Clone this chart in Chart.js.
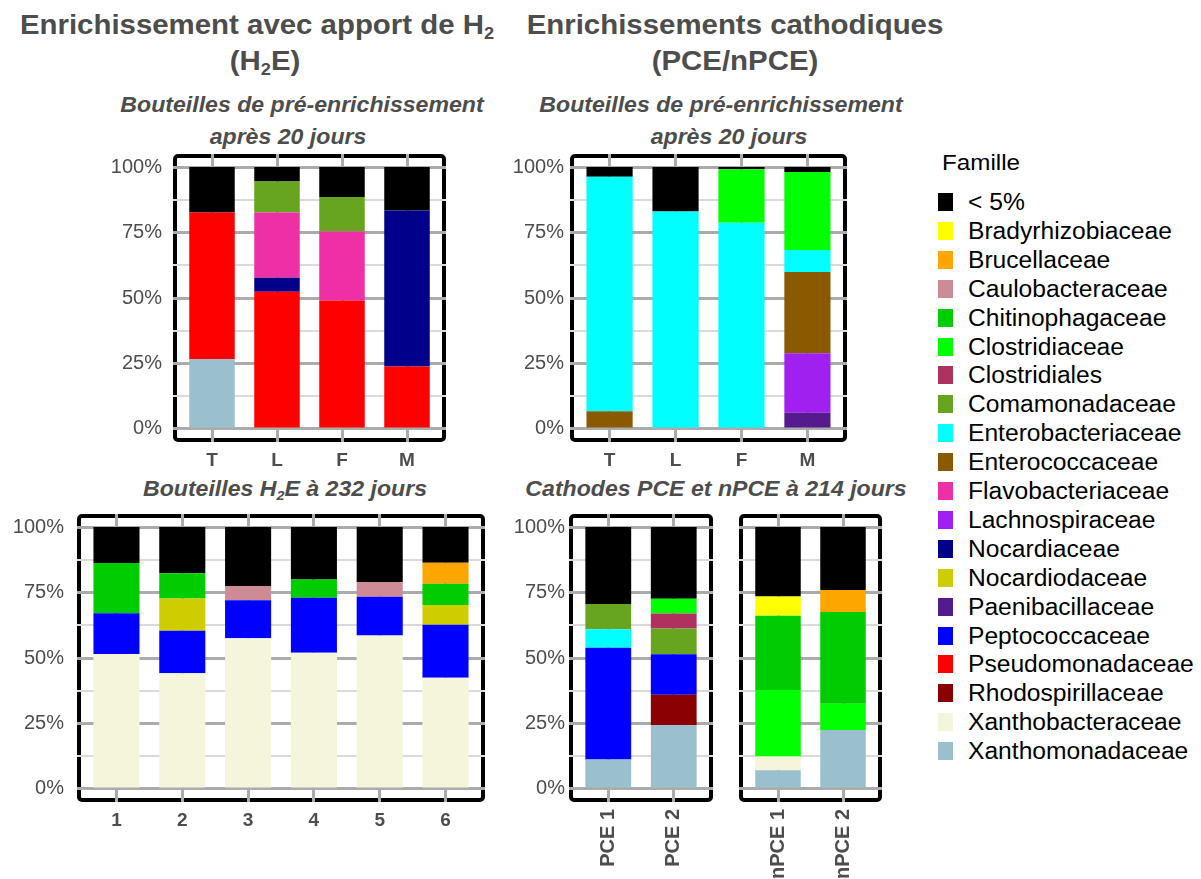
<!DOCTYPE html>
<html>
<head>
<meta charset="utf-8">
<script src="https://cdn.jsdelivr.net/npm/chart.js@4.4.1/dist/chart.umd.min.js"></script>
<style>
  body { margin: 0; background: #fff; }
  #page { position: relative; width: 1201px; height: 879px; overflow: hidden; font-family: "Liberation Sans", Arial, sans-serif; }
  .t { position: absolute; white-space: nowrap; transform: translateX(-50%) scaleX(1.05); color: #4d4d4d; font-weight: bold; line-height: 1; }
  .title { font-size: 28px; }
  .sub { font-size: 22px; font-style: italic; }
  .t sub { font-size: 0.62em; vertical-align: -0.3em; line-height: 0; }
  .pane { position: absolute; }
  #legend { position: absolute; left: 938px; top: 0; color: #000; }
  #legend .head { position: absolute; left: 4px; top: 150px; font-size: 22px; white-space: nowrap; transform: scaleX(1.1); transform-origin: left center; }
  #legend .item { position: absolute; left: 0; height: 18px; white-space: nowrap; }
  #legend .key { position: absolute; left: 0; top: 0; width: 15px; height: 18px; }
  #legend .name { position: absolute; left: 30px; top: -3px; font-size: 23px; line-height: 24px; transform: scaleX(1.07); transform-origin: left center; }
</style>
</head>
<body>
<div id="page">
  <div class="t title" style="left:257px; top:11px;">Enrichissement avec apport de H<sub>2</sub></div>
  <div class="t title" style="left:265px; top:47px;">(H<sub>2</sub>E)</div>
  <div class="t title" style="left:735px; top:11px;">Enrichissements cathodiques</div>
  <div class="t title" style="left:735px; top:47px;">(PCE/nPCE)</div>

  <div class="t sub" style="left:302px; top:94px;">Bouteilles de pré-enrichissement</div>
  <div class="t sub" style="left:288px; top:126px;">après 20 jours</div>
  <div class="t sub" style="left:721px; top:94px;">Bouteilles de pré-enrichissement</div>
  <div class="t sub" style="left:729px; top:126px;">après 20 jours</div>

  <div class="t sub" style="left:285px; top:478px;">Bouteilles H<sub>2</sub>E à 232 jours</div>
  <div class="t sub" style="left:716px; top:478px;">Cathodes PCE et nPCE à 214 jours</div>

  <div id="legend"><div class="head">Famille</div></div>
</div>

<script>
// familles, dans l'ordre de la légende
const families = [
  "< 5%", "Bradyrhizobiaceae", "Brucellaceae", "Caulobacteraceae", "Chitinophagaceae",
  "Clostridiaceae", "Clostridiales", "Comamonadaceae", "Enterobacteriaceae", "Enterococcaceae",
  "Flavobacteriaceae", "Lachnospiraceae", "Nocardiaceae", "Nocardiodaceae", "Paenibacillaceae",
  "Peptococcaceae", "Pseudomonadaceae", "Rhodospirillaceae", "Xanthobacteraceae", "Xanthomonadaceae"
];
const familyColours = [
  "#000000", "#ffff00", "#ffa500", "#cd8c95", "#00cd00",
  "#00ff00", "#b03060", "#67a521", "#00ffff", "#8b5a00",
  "#ee30a7", "#a020f0", "#00008b", "#cdcd00", "#551a8b",
  "#0000ff", "#ff0000", "#8b0000", "#f5f5dc", "#9ac0cd"
];

// % par famille, empilé du bas vers le haut
const h2PreLabels = ["T", "L", "F", "M"];
const h2PreSeries = [
  ["Xanthomonadaceae", [26.7, 0, 0, 0]],
  ["Pseudomonadaceae", [56.0, 52.4, 49.0, 23.8]],
  ["Nocardiaceae", [0, 5.3, 0, 59.6]],
  ["Flavobacteriaceae", [0, 25.0, 26.4, 0]],
  ["Comamonadaceae", [0, 11.8, 13.2, 0]],
  ["< 5%", [17.3, 5.5, 11.4, 16.6]]
];

const cathPreLabels = ["T", "L", "F", "M"];
const cathPreSeries = [
  ["Paenibacillaceae", [0, 0, 0, 6.2]],
  ["Lachnospiraceae", [0, 0, 0, 22.7]],
  ["Enterococcaceae", [6.7, 0, 0, 31.0]],
  ["Enterobacteriaceae", [89.6, 83.0, 78.7, 8.4]],
  ["Clostridiaceae", [0, 0, 20.5, 29.8]],
  ["< 5%", [3.7, 17.0, 0.8, 1.9]]
];

const h2Labels = ["1", "2", "3", "4", "5", "6"];
const h2Series = [
  ["Xanthobacteraceae", [51.5, 44.2, 57.5, 52.0, 58.6, 42.5]],
  ["Peptococcaceae", [15.6, 16.2, 14.6, 21.0, 14.8, 20.2]],
  ["Nocardiodaceae", [0, 12.3, 0, 0, 0, 7.5]],
  ["Caulobacteraceae", [0, 0, 5.4, 0, 5.6, 0]],
  ["Chitinophagaceae", [19.2, 9.7, 0, 7.0, 0, 8.2]],
  ["Brucellaceae", [0, 0, 0, 0, 0, 8.0]],
  ["< 5%", [13.7, 17.6, 22.5, 20.0, 21.0, 13.6]]
];

const pceLabels = ["PCE 1", "PCE 2"];
const pceSeries = [
  ["Xanthomonadaceae", [11.2, 24.4]],
  ["Rhodospirillaceae", [0, 11.6]],
  ["Peptococcaceae", [42.7, 15.4]],
  ["Enterobacteriaceae", [7.1, 0]],
  ["Comamonadaceae", [9.6, 9.9]],
  ["Clostridiales", [0, 5.7]],
  ["Clostridiaceae", [0, 5.6]],
  ["< 5%", [29.4, 27.4]]
];

const npceLabels = ["nPCE 1", "nPCE 2"];
const npceSeries = [
  ["Xanthomonadaceae", [7.1, 22.5]],
  ["Xanthobacteraceae", [5.3, 0]],
  ["Clostridiaceae", [25.4, 10.0]],
  ["Chitinophagaceae", [28.3, 35.1]],
  ["Bradyrhizobiaceae", [7.4, 0]],
  ["Brucellaceae", [0, 8.4]],
  ["< 5%", [26.5, 24.0]]
];

const yTicks = [0, 12.5, 25, 37.5, 50, 62.5, 75, 87.5, 100];

function colourOf(name) {
  return familyColours[families.indexOf(name)];
}

// cadre noir du panneau, dessiné avant la grille
const framePlugin = {
  id: "frame",
  beforeDraw(chart) {
    const ctx = chart.ctx;
    const a = chart.chartArea;
    ctx.save();
    ctx.strokeStyle = "#000";
    ctx.lineWidth = 4;
    ctx.beginPath();
    ctx.roundRect(a.left + 2, a.top + 2, a.right - a.left - 4, a.bottom - a.top - 4, 3);
    ctx.stroke();
    ctx.restore();
  }
};

// box = [gauche, haut, largeur, hauteur] de la zone du panneau
function drawPanel(labels, series, box, yPad, rotate) {
  const showY = yPad !== null;
  const yW = 70;
  const xH = rotate ? 80 : 34;
  const padTop = 12;
  const holder = document.createElement("div");
  holder.className = "pane";
  holder.style.left = (box[0] - yW) + "px";
  holder.style.top = (box[1] - padTop) + "px";
  const canvas = document.createElement("canvas");
  canvas.width = yW + box[2];
  canvas.height = padTop + box[3] + xH;
  holder.appendChild(canvas);
  document.getElementById("page").appendChild(holder);

  new Chart(canvas, {
    type: "bar",
    data: {
      datasets: series.map(([name, vals]) => ({
        label: name,
        data: vals.map((v, i) => ({ x: i, y: v })),
        backgroundColor: colourOf(name),
        borderWidth: 0,
        categoryPercentage: 1,
        barPercentage: 0.7
      }))
    },
    options: {
      responsive: false,
      animation: false,
      layout: { padding: { top: padTop, left: 0, right: 0, bottom: 0 } },
      plugins: { legend: { display: false }, tooltip: { enabled: false } },
      scales: {
        x: {
          type: "linear",
          stacked: true,
          offset: false,
          min: -0.6,
          max: labels.length - 0.4,
          afterBuildTicks: (axis) => { axis.ticks = labels.map((l, i) => ({ value: i })); },
          afterFit: (axis) => {
            axis.height = xH;
            axis.paddingLeft = 0;
            axis.paddingRight = 0;
          },
          ticks: {
            autoSkip: false,
            maxRotation: rotate ? 90 : 0,
            minRotation: rotate ? 90 : 0,
            padding: 7,
            color: "#4d4d4d",
            font: { family: "Liberation Sans", size: rotate ? 20 : 19, weight: "bold" },
            callback: (v, i) => labels[i]
          },
          grid: { color: "#ababab", lineWidth: 3, drawTicks: false, offset: false },
          border: { display: false }
        },
        y: {
          stacked: true,
          min: -5,
          max: 105,
          afterBuildTicks: (axis) => { axis.ticks = yTicks.map((v) => ({ value: v })); },
          afterFit: (axis) => {
            axis.width = yW;
            axis.paddingTop = 0;
            axis.paddingBottom = 0;
          },
          ticks: {
            display: showY,
            padding: showY ? yPad : 0,
            color: "#4d4d4d",
            font: { family: "Liberation Sans", size: 20 },
            callback: (v) => (v % 25 === 0 ? v + "%" : "")
          },
          grid: {
            drawTicks: false,
            color: (c) => (c.tick && c.tick.value % 25 === 0 ? "#ababab" : "#dadada"),
            lineWidth: (c) => (c.tick && c.tick.value % 25 === 0 ? 3 : 2)
          },
          border: { display: false }
        }
      }
    },
    plugins: [framePlugin]
  });
}

drawPanel(h2PreLabels, h2PreSeries, [173, 154, 273, 288], 11, false);
drawPanel(cathPreLabels, cathPreSeries, [570, 154, 277, 288], 6, false);
drawPanel(h2Labels, h2Series, [77, 514, 408, 288], 13, false);
drawPanel(pceLabels, pceSeries, [569, 514, 144, 288], 4, true);
drawPanel(npceLabels, npceSeries, [739, 514, 143, 288], null, true);

// légende
const legend = document.getElementById("legend");
families.forEach((name, i) => {
  const item = document.createElement("div");
  item.className = "item";
  item.style.top = (193 + i * 28.9) + "px";
  const key = document.createElement("div");
  key.className = "key";
  key.style.background = familyColours[i];
  const label = document.createElement("div");
  label.className = "name";
  label.textContent = name;
  item.appendChild(key);
  item.appendChild(label);
  legend.appendChild(item);
});
</script>
</body>
</html>
